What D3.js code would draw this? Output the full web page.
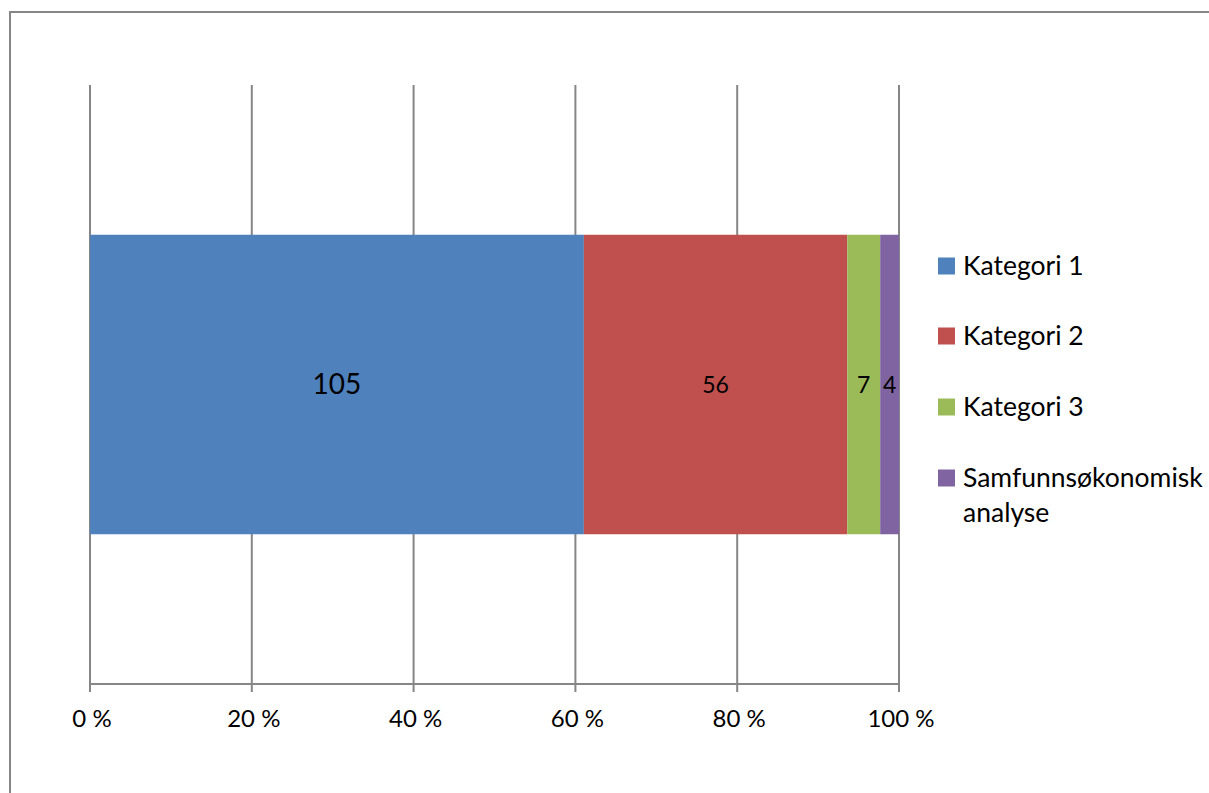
<!DOCTYPE html>
<html><head><meta charset="utf-8">
<script src="https://cdn.jsdelivr.net/npm/d3@7"></script>
<style>body{margin:0;background:#fff}svg{display:block}text{font-family:Lato,"Open Sans",sans-serif;fill:#000}</style>
</head><body>
<script>
const seriesNames = ["Kategori 1", "Kategori 2", "Kategori 3", "Samfunnsøkonomisk analyse"];
const seriesValues = [105, 56, 7, 4];
const seriesColors = ["#4F81BD", "#C0504D", "#9BBB59", "#8064A2"];
const tickValues = [0, 0.2, 0.4, 0.6, 0.8, 1.0];
const tickLabels = ["0 %", "20 %", "40 %", "60 %", "80 %", "100 %"];
const labelSizes = [28, 23, 23, 23];

const W = 1209, H = 793;
const svg = d3.select("body").append("svg").attr("width", W).attr("height", H);
svg.append("rect").attr("x", 10).attr("y", 12).attr("width", W + 20).attr("height", H + 20)
  .attr("fill", "#fff").attr("stroke", "#868686").attr("stroke-width", 2);

const x = d3.scaleLinear().domain([0, 1]).range([90, 899]);
const y = d3.scaleBand().domain(["a"]).range([85, 684]).paddingInner(0).paddingOuter(0.5);
const total = d3.sum(seriesValues);
let cum = 0;
const stacks = seriesValues.map((v, i) => { const s = {i, v, x0: cum / total, x1: (cum + v) / total}; cum += v; return s; });

// gridlines
svg.append("g").selectAll("line").data(tickValues).join("line")
  .attr("x1", d => x(d)).attr("x2", d => x(d)).attr("y1", 85).attr("y2", 692)
  .attr("stroke", "#868686").attr("stroke-width", 2);
// axis
svg.append("line").attr("x1", x(0)).attr("x2", x(1)).attr("y1", 684).attr("y2", 684)
  .attr("stroke", "#868686").attr("stroke-width", 2);
svg.append("g").selectAll("text").data(tickValues).join("text")
  .attr("x", d => x(d) + 2).attr("y", 727).attr("text-anchor", "middle")
  .attr("font-size", 24).text((d, i) => tickLabels[i]);

// bars
svg.append("g").selectAll("rect").data(stacks).join("rect")
  .attr("x", d => x(d.x0)).attr("width", d => x(d.x1) - x(d.x0))
  .attr("y", y("a")).attr("height", y.bandwidth())
  .attr("fill", d => seriesColors[d.i]);
svg.append("g").selectAll("text").data(stacks).join("text")
  .attr("x", d => (x(d.x0) + x(d.x1)) / 2).attr("y", y("a") + y.bandwidth() / 2)
  .attr("dy", "0.35em").attr("text-anchor", "middle")
  .attr("font-size", d => labelSizes[d.i]).text(d => d.v);

// legend
const lg = svg.append("g");
const rowY = [266, 336, 407, 478];
seriesNames.forEach((n, i) => {
  lg.append("rect").attr("x", 938).attr("y", rowY[i] - 8.5).attr("width", 17).attr("height", 17).attr("fill", seriesColors[i]);
  const t = lg.append("text").attr("x", 963).attr("y", rowY[i]).attr("font-size", 26.5);
  const words = n === "Samfunnsøkonomisk analyse" ? ["Samfunnsøkonomisk", "analyse"] : [n];
  words.forEach((w, j) => t.append("tspan").attr("x", 963).attr("dy", j === 0 ? "0.35em" : 35).text(w));
});
</script>
</body></html>
